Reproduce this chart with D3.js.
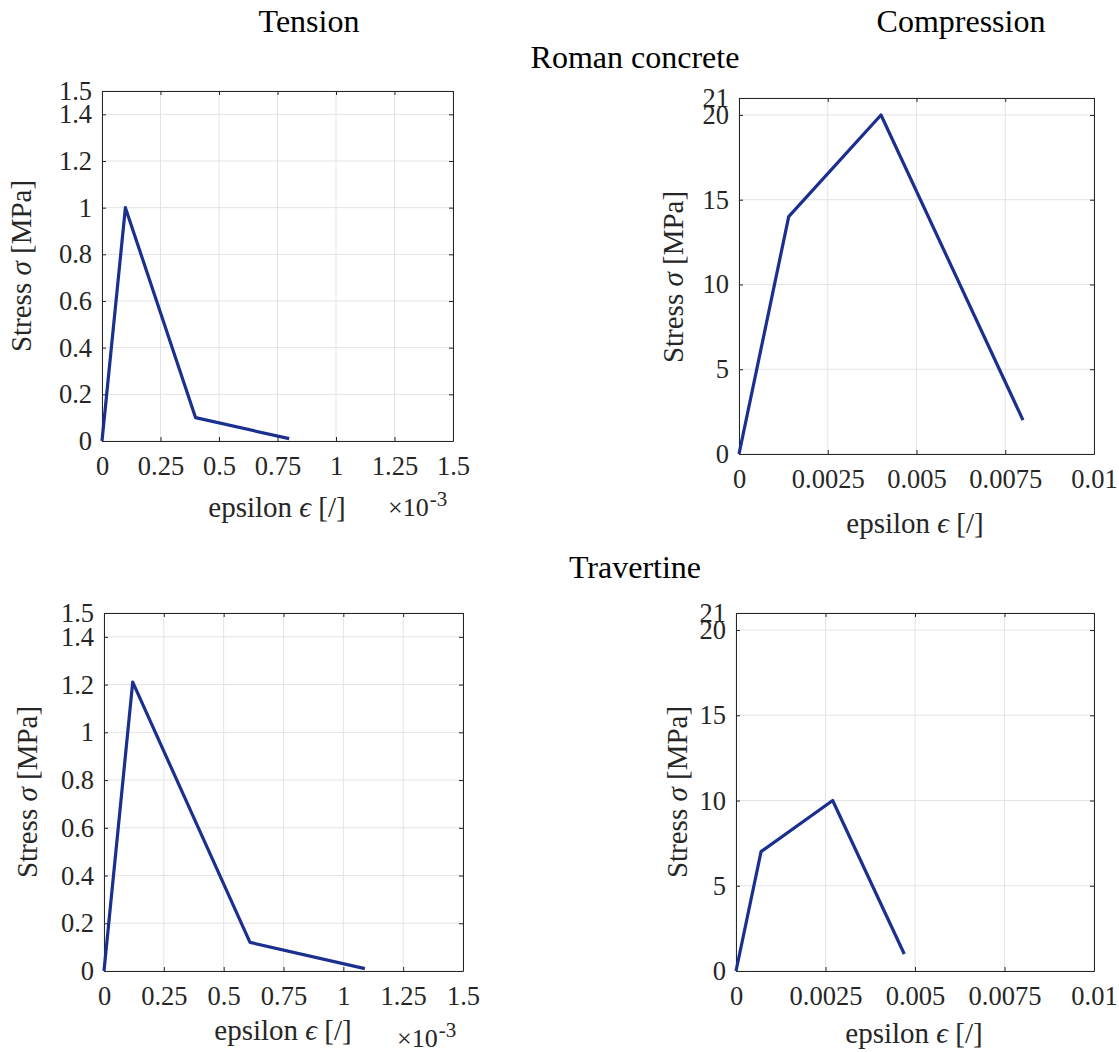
<!DOCTYPE html>
<html lang="en">
<head>
  <meta charset="UTF-8">
  <title>Stress-strain</title>
  <script src="https://d3js.org/d3.v7.min.js"></script>
  <style>
    body { margin: 0; background: #fff; }
    svg { display: block; }
    svg text { font-family: "Liberation Serif", "Times New Roman", "DejaVu Serif", serif !important; }
    .tick text { font-size: 26.5px; fill: #262626; }
  </style>
</head>
<body>
  <svg id="fig" width="1119" height="1052"></svg>
  <script>
    // data
    const rcTensionStrain = [0, 0.1e-3, 0.4e-3, 0.8e-3];
    const rcTensionStress = [0, 1, 0.1, 0.01];
    const rcCompStrain = [0, 0.0014, 0.004, 0.008];
    const rcCompStress = [0, 14, 20, 2];
    const trTensionStrain = [0, 0.12e-3, 0.61e-3, 1.09e-3];
    const trTensionStress = [0, 1.21, 0.12, 0.01];
    const trCompStrain = [0, 0.0007, 0.0027, 0.0047];
    const trCompStress = [0, 7, 10, 1];

    const tensionXTicks = [0, 0.25e-3, 0.5e-3, 0.75e-3, 1e-3, 1.25e-3, 1.5e-3];
    const tensionYTicks = [0, 0.2, 0.4, 0.6, 0.8, 1, 1.2, 1.4, 1.5];
    const compXTicks = [0, 0.0025, 0.005, 0.0075, 0.01];
    const compYTicks = [0, 5, 10, 15, 20, 21];

    const svg = d3.select('#fig');
    const axisColor = '#262626';
    const lineColor = '#1a2f8e';

    const panels = [
      { box: [102, 453, 91, 441], xs: rcTensionStrain, ys: rcTensionStress, xmax: 1.5e-3, ymax: 1.5,
        xt: tensionXTicks, yt: tensionYTicks, scaled: true,
        ylab: [31, 266], xlab: [277, 517], expo: [388, 516] },
      { box: [739, 1094, 98, 454], xs: rcCompStrain, ys: rcCompStress, xmax: 0.01, ymax: 21,
        xt: compXTicks, yt: compYTicks, scaled: false,
        ylab: [683, 277], xlab: [915, 533] },
      { box: [104, 463, 613, 971], xs: trTensionStrain, ys: trTensionStress, xmax: 1.5e-3, ymax: 1.5,
        xt: tensionXTicks, yt: tensionYTicks, scaled: true,
        ylab: [37, 792], xlab: [283, 1040], expo: [397, 1047] },
      { box: [736, 1094, 613, 971], xs: trCompStrain, ys: trCompStress, xmax: 0.01, ymax: 21,
        xt: compXTicks, yt: compYTicks, scaled: false,
        ylab: [687, 792], xlab: [914, 1043] }
    ];

    function drawPanel(p) {
      const [x0, x1, y0, y1] = p.box;
      const x = d3.scaleLinear().domain([0, p.xmax]).range([x0, x1]);
      const y = d3.scaleLinear().domain([0, p.ymax]).range([y1, y0]);
      const g = svg.append('g');
      const tl = 4;

      // grid
      g.selectAll('.gx').data(p.xt).join('line')
        .attr('x1', d => x(d)).attr('x2', d => x(d)).attr('y1', y0).attr('y2', y1)
        .attr('stroke', '#e3e3e3').attr('stroke-width', 1);
      g.selectAll('.gy').data(p.yt).join('line')
        .attr('y1', d => y(d)).attr('y2', d => y(d)).attr('x1', x0).attr('x2', x1)
        .attr('stroke', '#e3e3e3').attr('stroke-width', 1);

      // axes: inward ticks on all four sides
      const fmtX = p.scaled ? (d => d3.format('~g')(+(d * 1e3).toFixed(4))) : (d => d3.format('~g')(d));
      const bottom = g.append('g').attr('transform', `translate(0,${y1})`)
        .call(d3.axisBottom(x).tickValues(p.xt).tickSizeInner(-tl).tickSizeOuter(0).tickPadding(15).tickFormat(fmtX));
      const top = g.append('g').attr('transform', `translate(0,${y0})`)
        .call(d3.axisTop(x).tickValues(p.xt).tickSizeInner(-tl).tickSizeOuter(0).tickFormat(''));
      const left = g.append('g').attr('transform', `translate(${x0},0)`)
        .call(d3.axisLeft(y).tickValues(p.yt).tickSizeInner(-tl).tickSizeOuter(0).tickPadding(10).tickFormat(d3.format('~g')));
      const right = g.append('g').attr('transform', `translate(${x1},0)`)
        .call(d3.axisRight(y).tickValues(p.yt).tickSizeInner(-tl).tickSizeOuter(0).tickFormat(''));
      [bottom, top, left, right].forEach(a => {
        a.select('.domain').attr('stroke', axisColor);
        a.selectAll('.tick line').attr('stroke', axisColor);
        a.attr('font-family', null).attr('font-size', null);
      });
      bottom.selectAll('.tick text').attr('dy', '0.71em');

      // data line
      const pts = p.xs.map((v, i) => [v, p.ys[i]]);
      g.append('path').datum(pts)
        .attr('d', d3.line().x(d => x(d[0])).y(d => y(d[1])))
        .attr('fill', 'none').attr('stroke', lineColor).attr('stroke-width', 3.2)
        .attr('stroke-linejoin', 'round');

      // labels
      const yl = g.append('text')
        .attr('transform', `translate(${p.ylab[0]},${p.ylab[1]}) rotate(-90)`)
        .attr('text-anchor', 'middle').attr('font-size', 29).attr('fill', axisColor);
      yl.append('tspan').text('Stress ');
      yl.append('tspan').attr('font-style', 'italic').text('σ');
      yl.append('tspan').text(' [MPa]');

      const xl = g.append('text')
        .attr('x', p.xlab[0]).attr('y', p.xlab[1])
        .attr('text-anchor', 'middle').attr('font-size', 29).attr('fill', axisColor);
      xl.append('tspan').text('epsilon ');
      xl.append('tspan').attr('font-style', 'italic').text('ϵ');
      xl.append('tspan').text(' [/]');

      if (p.expo) {
        const ex = g.append('text').attr('x', p.expo[0]).attr('y', p.expo[1])
          .attr('font-size', 26).attr('fill', axisColor);
        ex.append('tspan').text('×10');
        ex.append('tspan').attr('font-size', 21).attr('dx', 1).attr('dy', -10).text('-3');
      }
    }

    panels.forEach(drawPanel);

    // column and row headings
    const headings = [
      ['Tension', 309, 32], ['Compression', 961, 32],
      ['Roman concrete', 635, 68], ['Travertine', 635, 578]
    ];
    svg.selectAll('.head').data(headings).join('text')
      .attr('x', d => d[1]).attr('y', d => d[2])
      .attr('text-anchor', 'middle').attr('font-size', 32).attr('fill', '#000')
      .text(d => d[0]);
  </script>
</body>
</html>
